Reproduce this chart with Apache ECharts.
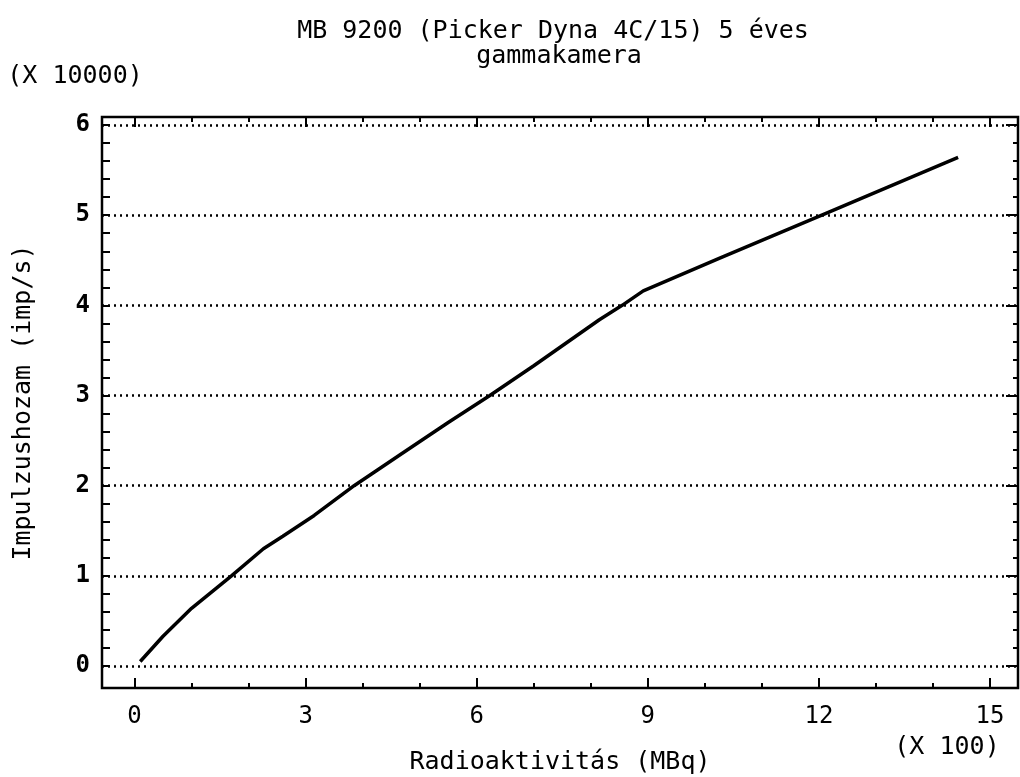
<!DOCTYPE html>
<html><head><meta charset="utf-8">
<script src="https://cdn.jsdelivr.net/npm/echarts@6/dist/echarts.min.js"></script>
<style>html,body{margin:0;padding:0;background:#fff}#c{width:1020px;height:777px}</style>
</head><body><div id="c"></div>
<script>
const titleLine1 = 'MB 9200 (Picker Dyna 4C/15) 5 éves';
const titleLine2 = 'gammakamera';
const xAxisName = 'Radioaktivitás (MBq)';
const yAxisName = 'Impulzushozam (imp/s)';
const xScaleNote = '(X 100)';
const yScaleNote = '(X 10000)';

// activity (x 100 MBq) and count rate (x 10000 imp/s)
const activity = [0.1, 0.5, 1.0, 1.7, 2.26, 2.6, 3.15, 3.85, 4.65, 5.5, 6.23, 7.0, 8.15, 8.55, 8.92, 10.25, 12.05, 14.44];
const countRate = [0.05, 0.33, 0.64, 1.0, 1.30, 1.44, 1.67, 2.0, 2.34, 2.7, 3.0, 3.33, 3.84, 4.0, 4.16, 4.52, 5.0, 5.64];

const xMajorTicks = [0, 3, 6, 9, 12, 15];
const xMinorTicks = [0, 1, 2, 3, 4, 5, 6, 7, 8, 9, 10, 11, 12, 13, 14, 15];
const yMajorTicks = [0, 1, 2, 3, 4, 5, 6];
const yMinorTicks = [0, 0.2, 0.4, 0.6, 0.8, 1, 1.2, 1.4, 1.6, 1.8, 2, 2.2, 2.4, 2.6, 2.8, 3, 3.2, 3.4, 3.6, 3.8, 4, 4.2, 4.4, 4.6, 4.8, 5, 5.2, 5.4, 5.6, 5.8, 6];

const FONT = '"DejaVu Sans Mono", monospace';
const X_MIN = -0.57, X_MAX = 15.49, Y_MIN = -0.244, Y_MAX = 6.089;

function xAx(pos, ticks, len, labels, extra) {
  return Object.assign({
    type: 'value', position: pos, min: X_MIN, max: X_MAX, gridIndex: 0,
    axisLine: { show: false, onZero: false }, splitLine: { show: false },
    axisTick: { show: true, inside: true, length: len, customValues: ticks, lineStyle: { color: '#000', width: 2 } },
    axisLabel: labels ? { show: true, customValues: labels, margin: 17, fontSize: 24, color: '#000', fontFamily: FONT } : { show: false }
  }, extra || {});
}
function yAx(pos, ticks, len, labels, extra) {
  return Object.assign({
    type: 'value', position: pos, min: Y_MIN, max: Y_MAX, gridIndex: 0,
    axisLine: { show: false, onZero: false }, splitLine: { show: false },
    axisTick: { show: true, inside: true, length: len, customValues: ticks, lineStyle: { color: '#000', width: 2 } },
    axisLabel: labels ? { show: true, customValues: labels, margin: 12, fontSize: 24, fontWeight: 'bold', color: '#000', fontFamily: FONT } : { show: false }
  }, extra || {});
}

const chart = echarts.init(document.getElementById('c'), null, { renderer: 'canvas' });
chart.setOption({
  animation: false,
  backgroundColor: '#fff',
  grid: { left: 102, top: 117, width: 916, height: 571, containLabel: false, outerBoundsMode: 'none', show: true, borderColor: '#000', borderWidth: 2.5, backgroundColor: 'transparent' },
  xAxis: [
    xAx('bottom', xMinorTicks, 5, xMajorTicks, {
      name: xAxisName, nameLocation: 'middle', nameGap: 62, nameMoveOverlap: false,
      nameTextStyle: { fontSize: 25, color: '#000', fontFamily: FONT }
    }),
    xAx('bottom', xMajorTicks, 10, null),
    xAx('top', xMinorTicks, 5, null),
    xAx('top', xMajorTicks, 10, null)
  ],
  yAxis: [
    yAx('left', yMinorTicks, 8, yMajorTicks, {
      name: yAxisName, nameLocation: 'middle', nameGap: 66, nameMoveOverlap: false,
      nameTextStyle: { fontSize: 25, color: '#000', fontFamily: FONT }
    }),
    yAx('right', yMinorTicks, 5, null),
    yAx('right', yMajorTicks, 12, null)
  ],
  graphic: [
    { type: 'text', x: 553, y: 31, style: { text: titleLine1, fill: '#000', font: '25px ' + FONT, textAlign: 'center', textVerticalAlign: 'middle' } },
    { type: 'text', x: 559, y: 56, style: { text: titleLine2, fill: '#000', font: '25px ' + FONT, textAlign: 'center', textVerticalAlign: 'middle' } },
    { type: 'text', x: 75, y: 76, style: { text: yScaleNote, fill: '#000', font: '25px ' + FONT, textAlign: 'center', textVerticalAlign: 'middle' } },
    { type: 'text', x: 947, y: 747, style: { text: xScaleNote, fill: '#000', font: '25px ' + FONT, textAlign: 'center', textVerticalAlign: 'middle' } }
  ],
  series: [{
    type: 'line', xAxisIndex: 0, yAxisIndex: 0,
    data: activity.map((x, i) => [x, countRate[i]]),
    showSymbol: false, symbol: 'none', smooth: false,
    lineStyle: { color: '#000', width: 3.5 },
    markLine: {
      silent: true, symbol: ['none', 'none'], label: { show: false },
      lineStyle: { color: '#000', width: 2.5, type: [2, 4] },
      emphasis: { disabled: true },
      data: yMajorTicks.map(v => ({ yAxis: v }))
    }
  }]
});
</script>
</body></html>
